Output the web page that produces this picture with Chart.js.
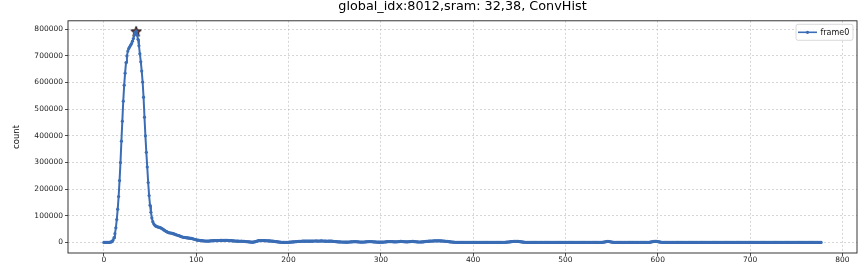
<!DOCTYPE html>
<html>
<head>
<meta charset="utf-8">
<script src="https://cdn.jsdelivr.net/npm/chart.js@4.4.0/dist/chart.umd.min.js"></script>
<style>
  html, body { margin: 0; padding: 0; background: #fff; }
  canvas { display: block; }
</style>
</head>
<body>
<canvas id="histChart" width="865" height="266"></canvas>
<script>
const chartTitle = 'global_idx:8012,sram: 32,38, ConvHist';
const seriesName = 'frame0';
const xTicks = [0, 100, 200, 300, 400, 500, 600, 700, 800];
const yTicks = [0, 100000, 200000, 300000, 400000, 500000, 600000, 700000, 800000];

// histogram counts per bin (bins 0..777)
const frame0 = [
  0, 0, 0, 100, 200, 300, 500, 900, 1800, 4000,
  9000, 18000, 33000, 55000, 86000, 125000, 172000, 232000, 300000, 380000,
  455000, 530000, 590000, 635000, 675000, 700000, 718000, 728000, 734000, 740000,
  746000, 755000, 765000, 778000, 788000, 792000, 778000, 762000, 738000, 708000,
  678000, 643000, 602000, 545000, 470000, 400000, 338000, 283000, 225000, 176000,
  140000, 113000, 92000, 78000, 70000, 65000, 62000, 60000, 58500, 57500,
  56500, 55500, 54000, 52000, 49500, 47000, 44500, 42500, 40500, 38500,
  37000, 36000, 35500, 35000, 34000, 33000, 32000, 30500, 29000, 28000,
  27000, 26000, 24500, 23000, 21500, 20500, 19500, 19000, 18500, 18000,
  17500, 17000, 16500, 16000, 15500, 15000, 14000, 13000, 12000, 11000,
  10000, 9000, 8500, 8000, 7500, 7000, 6500, 6000, 6000, 5500,
  5500, 5000, 5000, 5200, 5500, 5800, 6000, 6300, 6500, 6800,
  7000, 7200, 7000, 6800, 7000, 7300, 7500, 7600, 7400, 7200,
  7500, 7800, 8000, 7800, 7500, 7200, 7000, 6800, 6500, 6200,
  6000, 5800, 5500, 5200, 5000, 4800, 4600, 4400, 4500, 4700,
  4500, 4200, 3800, 3500, 3200, 3000, 2600, 2200, 1800, 1500,
  1200, 1000, 1300, 2000, 3000, 4200, 5200, 6000, 6600, 7000,
  7200, 7300, 7200, 7000, 6800, 6500, 6300, 6200, 6000, 5800,
  5600, 5300, 5000, 4600, 4200, 3800, 3300, 2800, 2300, 1800,
  1400, 1000, 700, 400, 200, 100, 0, 0, 100, 300,
  600, 900, 1200, 1500, 1800, 2100, 2400, 2700, 3000, 3300,
  3600, 3900, 4100, 4300, 4500, 4600, 4700, 4800, 4800, 4900,
  5000, 5000, 4900, 4800, 4700, 4800, 5000, 5200, 5400, 5500,
  5600, 5500, 5300, 5200, 5400, 5600, 5700, 5500, 5300, 5000,
  4800, 4600, 4500, 4600, 4800, 5000, 4900, 4700, 4400, 4000,
  3600, 3200, 2800, 2500, 2200, 2000, 1800, 1700, 1600, 1500,
  1400, 1300, 1200, 1100, 1200, 1400, 1700, 2000, 2300, 2500,
  2700, 2800, 2900, 2800, 2600, 2300, 2000, 1700, 1500, 1400,
  1300, 1400, 1600, 1900, 2300, 2700, 3000, 3200, 3300, 3200,
  3000, 2700, 2400, 2100, 1800, 1500, 1300, 1200, 1100, 1000,
  1000, 1100, 1200, 1400, 1700, 2000, 2400, 2800, 3100, 3300,
  3400, 3300, 3100, 2800, 2500, 2300, 2200, 2300, 2600, 3000,
  3400, 3700, 3800, 3600, 3300, 3000, 2700, 2500, 2400, 2500,
  2700, 3000, 3300, 3600, 3800, 3700, 3400, 3000, 2600, 2200,
  1900, 1700, 1600, 1600, 1800, 2100, 2500, 2900, 3300, 3700,
  4000, 4300, 4600, 4900, 5100, 5300, 5500, 5700, 5800, 5900,
  6000, 6100, 6100, 6000, 5900, 5800, 5600, 5400, 5100, 4800,
  4500, 4100, 3700, 3300, 2900, 2500, 2100, 1700, 1400, 1100,
  800, 600, 400, 300, 200, 100, 100, 100, 100, 100,
  100, 100, 100, 100, 100, 100, 100, 100, 100, 100,
  100, 100, 100, 100, 100, 100, 100, 100, 100, 100,
  100, 100, 100, 100, 100, 100, 100, 100, 100, 100,
  100, 100, 100, 100, 100, 100, 100, 100, 100, 200,
  200, 300, 300, 400, 500, 700, 900, 1200, 1600, 2000,
  2400, 2800, 3200, 3600, 3900, 4100, 4200, 4200, 4000, 3700,
  3300, 2900, 2400, 1900, 1400, 1000, 700, 500, 300, 200,
  150, 120, 100, 100, 100, 100, 100, 100, 100, 100,
  100, 100, 100, 100, 100, 100, 100, 100, 100, 100,
  100, 100, 100, 100, 100, 100, 100, 100, 100, 100,
  100, 100, 100, 100, 100, 100, 100, 100, 100, 100,
  100, 100, 100, 100, 100, 100, 100, 100, 100, 100,
  100, 100, 100, 100, 100, 100, 100, 100, 100, 100,
  100, 100, 100, 100, 100, 100, 100, 100, 100, 100,
  100, 100, 100, 100, 100, 100, 100, 100, 100, 100,
  500, 900, 1500, 2200, 3000, 3600, 3800, 3500, 2900, 2200,
  1500, 900, 500, 300, 200, 100, 100, 100, 100, 100,
  100, 100, 100, 100, 100, 100, 100, 100, 100, 100,
  100, 100, 100, 100, 100, 100, 100, 100, 100, 100,
  100, 100, 100, 100, 100, 100, 100, 100, 100, 100,
  300, 600, 1100, 1800, 2600, 3400, 4000, 4300, 4200, 3800,
  3200, 2500, 1800, 1200, 700, 400, 200, 100, 100, 100,
  100, 100, 100, 100, 100, 100, 100, 100, 100, 100,
  100, 100, 100, 100, 100, 100, 100, 100, 100, 100,
  100, 100, 100, 100, 100, 100, 100, 100, 100, 100,
  100, 100, 100, 100, 100, 100, 100, 100, 100, 100,
  100, 100, 100, 100, 100, 100, 100, 100, 100, 100,
  100, 100, 100, 100, 100, 100, 100, 100, 100, 100,
  100, 100, 100, 100, 100, 100, 100, 100, 100, 100,
  100, 100, 100, 100, 100, 100, 100, 100, 100, 100,
  100, 100, 100, 100, 100, 100, 100, 100, 100, 100,
  100, 100, 100, 100, 100, 100, 100, 100, 100, 100,
  100, 100, 100, 100, 100, 100, 100, 100, 100, 100,
  100, 100, 100, 100, 100, 100, 100, 100, 100, 100,
  100, 100, 100, 100, 100, 100, 100, 100, 100, 100,
  100, 100, 100, 100, 100, 100, 100, 100, 100, 100,
  100, 100, 100, 100, 100, 100, 100, 100, 100, 100,
  100, 100, 100, 100, 100, 100, 100, 100, 100, 100,
  100, 100, 100, 100, 100, 100, 100, 100
];

const lineColor = '#3a6db5';
const gridColor = 'rgba(176,176,176,0.65)';
const tickFont = { family: 'DejaVu Sans', size: 7.5 };

// filled star marker for the max bin
function starMarker(size) {
  const c = document.createElement('canvas');
  c.width = c.height = size;
  const g = c.getContext('2d');
  g.beginPath();
  for (let k = 0; k < 10; k++) {
    const r = k % 2 ? size * 0.2 : size * 0.46;
    const a = -Math.PI / 2 + k * Math.PI / 5;
    g.lineTo(size / 2 + r * Math.cos(a), size / 2 + r * Math.sin(a) + size * 0.04);
  }
  g.closePath();
  g.fillStyle = '#7a3434';
  g.fill();
  g.strokeStyle = '#1a1a1a';
  g.lineWidth = 1;
  g.stroke();
  return c;
}

const peakValue = Math.max(...frame0);
const peakBin = frame0.indexOf(peakValue);

// axes frame + matplotlib-like legend box
const frameAndLegend = {
  id: 'frameAndLegend',
  afterDatasetsDraw(chart) {
    const { ctx, chartArea: a } = chart;
    ctx.save();
    ctx.strokeStyle = '#222';
    ctx.lineWidth = 0.9;
    ctx.strokeRect(a.left, a.top, a.right - a.left, a.bottom - a.top);

    const bw = 57, bh = 16;
    const bx = a.right - bw - 4, by = a.top + 3.5;
    ctx.beginPath();
    ctx.roundRect(bx, by, bw, bh, 2);
    ctx.fillStyle = 'rgba(255,255,255,0.85)';
    ctx.fill();
    ctx.strokeStyle = '#cfcfcf';
    ctx.lineWidth = 0.8;
    ctx.stroke();

    const cy = by + bh / 2;
    ctx.beginPath();
    ctx.moveTo(bx + 2, cy);
    ctx.lineTo(bx + 21, cy);
    ctx.strokeStyle = lineColor;
    ctx.lineWidth = 1.6;
    ctx.stroke();
    ctx.beginPath();
    ctx.arc(bx + 11.5, cy, 1.6, 0, Math.PI * 2);
    ctx.fillStyle = lineColor;
    ctx.fill();

    ctx.fillStyle = '#111';
    ctx.font = '8px "DejaVu Sans"';
    ctx.textBaseline = 'middle';
    ctx.fillText(chart.data.datasets[0].label, bx + 24.5, cy + 0.5);
    ctx.restore();
  }
};

new Chart(document.getElementById('histChart'), {
  type: 'line',
  data: {
    datasets: [
      {
        label: seriesName,
        data: frame0.map((v, i) => ({ x: i, y: v })),
        borderColor: lineColor,
        backgroundColor: lineColor,
        borderWidth: 2,
        pointRadius: 1.6,
        pointBorderWidth: 0,
        pointBackgroundColor: lineColor,
        tension: 0
      },
      {
        label: 'peak',
        data: [{ x: peakBin, y: peakValue }],
        showLine: false,
        pointStyle: starMarker(12),
        pointRadius: 6
      }
    ]
  },
  options: {
    responsive: false,
    animation: false,
    devicePixelRatio: 1,
    layout: { padding: { left: 0, right: 8, top: 0, bottom: 0 } },
    plugins: {
      legend: { display: false },
      tooltip: { enabled: false },
      title: {
        display: true,
        text: chartTitle,
        fullSize: false,
        color: '#000',
        font: { family: 'DejaVu Sans', size: 12.8, weight: 'normal', lineHeight: 1 },
        padding: { top: 0, bottom: 8 }
      }
    },
    scales: {
      x: {
        type: 'linear',
        min: -38.85,
        max: 815.85,
        afterBuildTicks: s => { s.ticks = xTicks.map(v => ({ value: v })); },
        afterFit: s => { s.height = 13; },
        border: { display: false, dash: [2, 2] },
        grid: {
          color: gridColor, lineWidth: 0.8,
          tickLength: 3, tickColor: '#222', tickBorderDash: [], tickWidth: 0.8
        },
        ticks: {
          padding: 0, maxRotation: 0, autoSkip: false, color: '#222', font: tickFont,
          callback: v => String(v)
        }
      },
      y: {
        type: 'linear',
        min: -39600,
        max: 831600,
        afterBuildTicks: s => { s.ticks = yTicks.map(v => ({ value: v })); },
        afterFit: s => { s.width = 68; },
        border: { display: false, dash: [2, 2] },
        grid: {
          color: gridColor, lineWidth: 0.8,
          tickLength: 3, tickColor: '#222', tickBorderDash: [], tickWidth: 0.8
        },
        ticks: {
          padding: 2, autoSkip: false, color: '#222', font: tickFont,
          callback: v => String(v)
        },
        title: {
          display: true, text: 'count', color: '#111',
          font: { family: 'DejaVu Sans', size: 8.5 },
          padding: { top: 12, bottom: 0 }
        }
      }
    }
  },
  plugins: [frameAndLegend]
});
</script>
</body>
</html>
